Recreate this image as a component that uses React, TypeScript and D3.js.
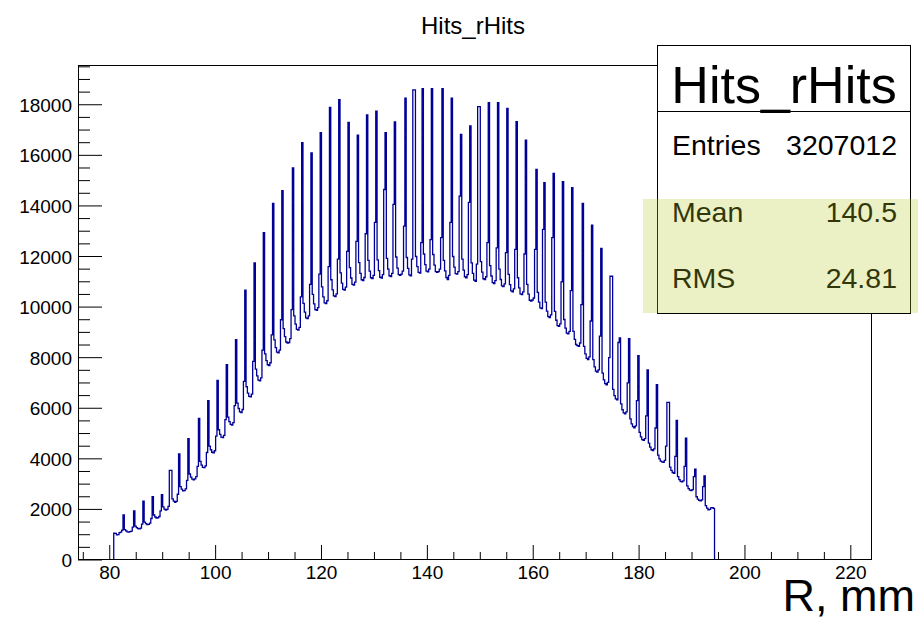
import React from "react";
import * as d3 from "d3";

// Histogram "Hits_rHits": hit counts per 0.25 mm radial bin, first bin starts at R = 80.75 mm
const histName = "Hits_rHits";
const xAxisTitle = "R, mm";
const binLow = 80.75;
const binWidth = 0.25;

// bins 0-99 (R 80.75 .. 105.75)
const countsRise = [
  1060, 1050, 990, 1000, 1080, 1100, 1180,
  1780, 1200, 1150, 1110, 1100, 1120, 1140, 1300,
  1940, 1340, 1280, 1240, 1230, 1260, 1420,
  2330, 1500, 1440, 1400, 1410, 1460, 1640,
  2500, 1780, 1700, 1660, 1670, 1720, 1940,
  2580, 2100, 2010, 1970, 2000, 2120,
  3540, 3540, 2420, 2330, 2280, 2320, 2600,
  4200, 2900, 2800, 2730, 2740, 2810, 3150,
  4800, 3400, 3280, 3200, 3170, 3210, 3300, 3700,
  5600, 3900, 3750, 3660, 3650, 3720, 4250,
  6300, 4500, 4360, 4260, 4240, 4320, 4900,
  7100, 5150, 4970, 4860, 4840, 4930, 5550,
  7720, 5650, 5470, 5360, 5330, 5430, 6100,
  8710, 6200, 5990, 5860, 5830, 5950, 7060,
  10665,
];

// bins 100-299 (R 105.75 .. 155.75)
const countsCore = [
  6850, 6600, 6470, 6450, 6560, 7850,
  11750, 7550, 7280, 7110, 7080, 7200, 8300,
  12940, 8150, 7880, 7720, 7690, 7800, 8900,
  14100, 8700, 8400, 8220, 8190, 8300, 9500,
  14600, 9150, 8830, 8620, 8580, 8600, 8750, 9900,
  15500, 9650, 9330, 9120, 9090, 9200, 10400,
  16500, 10150, 9800, 9570, 9540, 9650, 10900,
  16100, 10500, 10130, 9900, 9870, 9980, 11300,
  16900, 10800, 10400, 10170, 10140, 10250, 11600,
  17900, 11080, 10680, 10440, 10410, 10520, 11900,
  18200, 11350, 10950, 10700, 10670, 10790, 12200,
  17300, 11560, 11150, 10900, 10870, 10990, 12600,
  16800, 11760, 11330, 11080, 11050, 11170, 12900,
  17600, 11850, 11420, 11160, 11130, 11250, 13350,
  17750, 11870, 11440, 11180, 11150, 11280, 14650,
  16900, 11930, 11500, 11240, 11210, 11330, 14060,
  17320, 11980, 11540, 11280, 11250, 11300, 11420, 13200,
  18260, 11960, 11530, 11270, 11240, 11900,
  18585, 18585, 12000, 11600, 11370, 11340, 12550,
  18640, 12100, 11680, 11420, 11390, 11500, 12670,
  18640, 12080, 11660, 11400, 11370, 11400, 11500, 12750,
  18640, 11850, 11430, 11170, 11090, 11250, 13350,
  18260, 12000, 11580, 11320, 11300, 11400, 14390,
  16830, 11900, 11460, 11200, 11160, 11280, 14140,
  17160, 11750, 11330, 11070, 11020, 11700,
  17930, 17930, 11800, 11380, 11120, 11090, 11200, 12550,
  18085, 11640, 11230, 10970, 10930, 11050, 12340,
  18085, 11500, 11090, 10840, 10810, 10920, 12150,
  17860, 11290, 10890,
];

// bins 300-453 (R 155.75 .. 194.25)
const countsFall = [
  10640, 10600, 10720, 12280,
  17330, 11160, 10760, 10520, 10490, 10600, 12100,
  16600, 10900, 10510, 10270, 10240, 10280, 10360, 12280,
  15440, 10580, 10200, 9970, 9940, 13070,
  14920, 10200, 9840, 9620, 9580, 9690, 12750,
  15290, 9830, 9480, 9270, 9240, 9340, 11000,
  14960, 9510, 9170, 8970, 8940, 9040, 10650,
  14720, 9040, 8720, 8520, 8480, 8450, 8580, 10100,
  14100, 8450, 8150, 7970, 7920, 8030, 9450,
  13240, 7920, 7640, 7470, 7430, 7520, 8850,
  12320, 7390, 7120, 6970, 6930, 7020, 8000,
  11220, 11220, 6750, 6500, 6370, 6330, 8600,
  8780, 6170, 5940, 5820, 5780, 5860, 7000,
  8750, 5580, 5380, 5270, 5230, 5300, 6300,
  8080, 5050, 4870, 4760, 4730, 4800, 5700,
  7520, 4620, 4460, 4360, 4330, 4390, 5220,
  6930, 4150, 4000, 3910, 3880, 3860, 3940, 4500,
  6230, 6230, 3670, 3540, 3460, 3430, 4100,
  5520, 3300, 3180, 3110, 3090, 3130, 3700,
  4820, 2930, 2820, 2760, 2740, 2780, 3300,
  3590, 2500, 2410, 2360, 2340, 2380, 2900,
  3330, 2150, 2050, 1980, 2000, 2060, 2070, 2040,
];

const counts = [...countsRise, ...countsCore, ...countsFall];

const xRange = [74, 224];
const xMajorTicks = [80, 100, 120, 140, 160, 180, 200, 220];
const yMajorTicks = [0, 2000, 4000, 6000, 8000, 10000, 12000, 14000, 16000, 18000];

const statLabels = ["Entries", "Mean", "RMS"];
const statValues = ["3207012", "140.5", "24.81"];

const W = 920;
const H = 621;
const frame = { left: 78, right: 872, top: 65, bottom: 560 };
const FONT = "'Liberation Sans', Arial, Helvetica, sans-serif";
const LINE = "#000099";

export default function App() {
  const yMax = (d3.max(counts) as number) * 1.05;
  const x = d3.scaleLinear().domain(xRange).range([frame.left, frame.right]);
  const y = d3.scaleLinear().domain([0, yMax]).range([frame.bottom, frame.top]);

  // outline of the histogram as a step path
  const p = d3.path();
  p.moveTo(x(binLow), y(0));
  counts.forEach((c, i) => {
    const x0 = x(binLow + i * binWidth);
    const x1 = x(binLow + (i + 1) * binWidth);
    p.lineTo(x0, y(c));
    p.lineTo(x1, y(c));
  });
  p.lineTo(x(binLow + counts.length * binWidth), y(0));

  const xMinor = d3.range(75, xRange[1], 5).filter((v) => v % 20 !== 0);
  const yMinor = d3.range(500, yMax, 500).filter((v) => v % 2000 !== 0);

  const box = { x: 657.5, y: 45.5, w: 253, h: 268, titleH: 66 };

  return (
    <svg
      width={W}
      height={H}
      style={{ position: "absolute", left: 0, top: 0, background: "#fff" }}
      fontFamily={FONT}
    >
      <rect x={0} y={0} width={W} height={H} fill="#fff" />

      <text x={473} y={34} textAnchor="middle" fontSize={24} fill="#000">
        {histName}
      </text>

      {/* histogram */}
      <path d={p.toString()} fill="none" stroke={LINE} strokeWidth={1.3} strokeLinejoin="miter" />

      {/* frame */}
      <rect
        x={frame.left + 0.5}
        y={frame.top + 0.5}
        width={frame.right - frame.left - 1}
        height={frame.bottom - frame.top - 1}
        fill="none"
        stroke="#000"
        strokeWidth={1}
      />

      {/* x axis ticks */}
      {xMajorTicks.map((t) => (
        <g key={"xm" + t}>
          <line x1={x(t)} x2={x(t)} y1={frame.bottom} y2={frame.bottom - 15} stroke="#000" strokeWidth={1} />
          <text x={x(t)} y={579} textAnchor="middle" fontSize={19} fill="#000">
            {t}
          </text>
        </g>
      ))}
      {xMinor.map((t) => (
        <line key={"xn" + t} x1={x(t)} x2={x(t)} y1={frame.bottom} y2={frame.bottom - 8} stroke="#000" strokeWidth={1} />
      ))}

      {/* y axis ticks */}
      {yMajorTicks.map((t) => (
        <g key={"ym" + t}>
          <line x1={frame.left} x2={frame.left + 24} y1={y(t)} y2={y(t)} stroke="#000" strokeWidth={1} />
          <text x={72} y={y(t) + 7} textAnchor="end" fontSize={19} fill="#000">
            {t}
          </text>
        </g>
      ))}
      {yMinor.map((t) => (
        <line key={"yn" + t} x1={frame.left} x2={frame.left + 12} y1={y(t)} y2={y(t)} stroke="#000" strokeWidth={1} />
      ))}

      {/* statistics box */}
      <rect x={box.x} y={box.y} width={box.w} height={box.h} fill="#fff" stroke="#000" strokeWidth={1} />
      <line x1={box.x} x2={box.x + box.w} y1={box.y + box.titleH} y2={box.y + box.titleH} stroke="#000" strokeWidth={1} />
      <text x={784} y={103} textAnchor="middle" fontSize={52} fill="#000">
        {histName}
      </text>
      {statLabels.map((lab, i) => (
        <g key={lab}>
          <text x={672} y={155 + i * 66.5} fontSize={28.5} fill="#000">
            {lab}
          </text>
          <text x={897} y={155 + i * 66.5} textAnchor="end" fontSize={28.5} fill="#000">
            {statValues[i]}
          </text>
        </g>
      ))}
      <rect x={643} y={199} width={275} height={114} fill="rgb(180,200,40)" fillOpacity={0.27} />

      <text x={915} y={611} textAnchor="end" fontSize={45} fill="#000">
        {xAxisTitle}
      </text>
    </svg>
  );
}
